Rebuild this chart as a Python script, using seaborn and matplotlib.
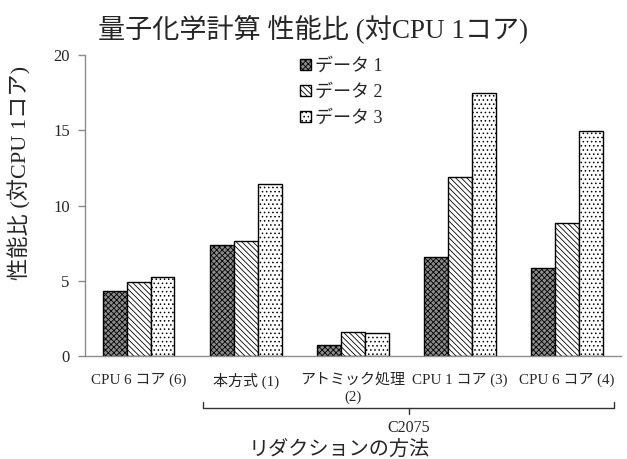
import matplotlib
matplotlib.use("Agg")
import matplotlib.pyplot as plt
import numpy as np
import pandas as pd
import seaborn as sns

# Values
categories = ["CPU 6 コア (6)", "本方式 (1)", "アトミック処理\n(2)", "CPU 1 コア (3)", "CPU 6 コア (4)"]
series_names = ["データ 1", "データ 2", "データ 3"]
data1 = [4.32, 7.40, 0.75, 6.60, 5.88]
data2 = [4.90, 7.63, 1.58, 11.93, 8.85]
data3 = [5.28, 11.42, 1.53, 17.45, 14.98]
y_ticks = [0, 5, 10, 15, 20]
group_label = "C2075"

sns.set_theme(style="white")
plt.rcParams["font.family"] = ["Liberation Serif", "Noto Sans CJK JP"]
plt.rcParams["hatch.linewidth"] = 0.6
plt.rcParams["axes.unicode_minus"] = False

df = pd.DataFrame({
    "method": categories * 3,
    "series": sum([[s] * len(categories) for s in series_names], []),
    "value": data1 + data2 + data3,
})

fig = plt.figure(figsize=(6.27, 4.59), dpi=100)
ax = fig.add_axes([0.1356, 0.2244, 0.8544, 0.6556])

sns.barplot(data=df, x="method", y="value", hue="series", order=categories,
            hue_order=series_names, width=0.67, palette=["#8c8c8c", "white", "white"],
            edgecolor="black", linewidth=1.0, saturation=1, ax=ax, errorbar=None)

hatches = ["xxxxxx", "\\\\\\\\\\\\", "...."]
faces = ["#8c8c8c", "white", "white"]
for cont, h, fc in zip(ax.containers, hatches, faces):
    for p in cont.patches:
        p.set_facecolor(fc)
        p.set_hatch(h)

# legend with small square handles
handles, labels = ax.get_legend_handles_labels()
for hnd, h, fc in zip(handles, hatches, faces):
    hnd.set_hatch(h)
    hnd.set_facecolor(fc)
leg = ax.legend(handles, labels, loc="upper left", bbox_to_anchor=(300 / 627, 1 - 58 / 459),
                bbox_transform=fig.transFigure, frameon=False, fontsize=13,
                handlelength=0.6, handleheight=0.6, handletextpad=0.25,
                labelspacing=0.5, borderaxespad=0, borderpad=0)

ax.set_ylim(0, 20)
ax.set_xlim(-0.5, len(categories) - 0.5)
ax.set_yticks(y_ticks)
ax.set_yticklabels([str(v) for v in y_ticks], fontsize=12)
ax.set_xticks(range(len(categories)))
ax.set_xticklabels(categories, fontsize=10.8, linespacing=1.4)
ax.set_xticks(np.arange(-0.5, len(categories), 1.0), minor=True)
ax.tick_params(axis="x", which="major", length=0, pad=12)
ax.tick_params(axis="x", which="minor", length=5, color="#8c8c8c", width=1)
ax.tick_params(axis="y", length=5, color="#8c8c8c", width=1, left=True, pad=6)

for side in ["top", "right"]:
    ax.spines[side].set_visible(False)
for side in ["left", "bottom"]:
    ax.spines[side].set_color("#8c8c8c")
    ax.spines[side].set_linewidth(1)

ax.set_xlabel("")
ax.set_ylabel("性能比 (対CPU 1コア)", fontsize=16)
ax.yaxis.set_label_coords(-0.10, 0.61)

# bracket grouping the C2075 methods
tr = ax.get_xaxis_transform()
xl, xr, xc = 0.60, 4.44, 2.52
ytop, ybot, ytick = -0.153, -0.174, -0.193
ax.plot([xl, xl, xr, xr], [ytop, ybot, ybot, ytop], transform=tr, color="#333333",
        lw=1, clip_on=False, solid_joinstyle="round")
ax.plot([xc, xc], [ybot, ytick], transform=tr, color="#333333", lw=1, clip_on=False)
ax.text(xc, -0.238, group_label, transform=tr, ha="center", va="center", fontsize=11.5)

fig.text(339 / 627, 1 - 450 / 459, "リダクションの方法", ha="center", va="center", fontsize=14.5)
fig.text(313 / 627, 1 - 30 / 459, "量子化学計算 性能比 (対CPU 1コア)", ha="center", va="center",
         fontsize=19.5)

fig.savefig("out.png", dpi=100)
